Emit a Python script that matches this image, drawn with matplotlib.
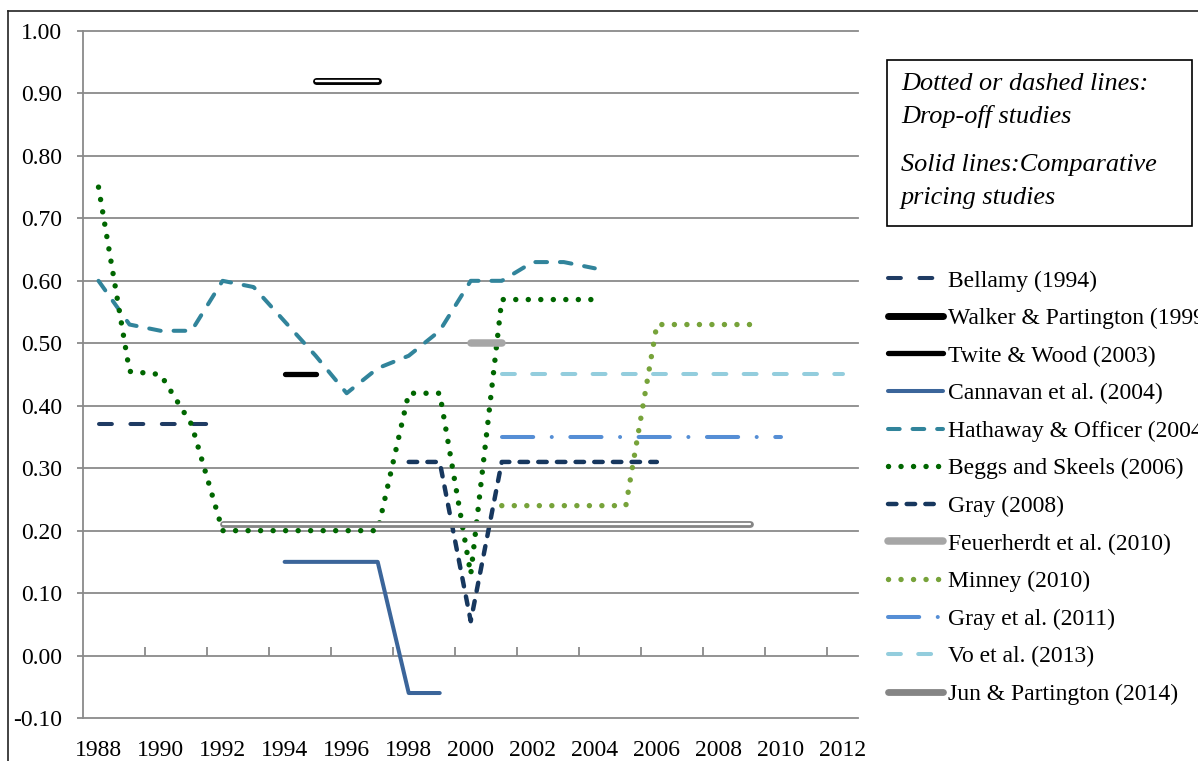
import numpy as np
import matplotlib
matplotlib.use("Agg")
import matplotlib.pyplot as plt
from matplotlib.patches import Rectangle
from matplotlib.lines import Line2D

plt.rcParams["font.family"] = ["Liberation Serif", "DejaVu Serif"]

# --- data ---
bellamy_years = [1988, 1989, 1990, 1991, 1992]
bellamy = [0.37, 0.37, 0.37, 0.37, 0.37]

walker_years = [1995, 1996, 1997]
walker = [0.92, 0.92, 0.92]

twite_years = [1994, 1995]
twite = [0.45, 0.45]

cannavan_years = [1994, 1995, 1996, 1997, 1998, 1999]
cannavan = [0.15, 0.15, 0.15, 0.15, -0.06, -0.06]

hathaway_years = list(range(1988, 2005))
hathaway = [0.60, 0.53, 0.52, 0.52, 0.60, 0.59, 0.535, 0.48, 0.42,
            0.46, 0.48, 0.52, 0.60, 0.60, 0.63, 0.63, 0.62]

beggs_years = list(range(1988, 2005))
beggs = [0.75, 0.455, 0.45, 0.37, 0.20, 0.20, 0.20, 0.20, 0.20,
         0.20, 0.42, 0.42, 0.13, 0.57, 0.57, 0.57, 0.57]

gray08_years = list(range(1998, 2007))
gray08 = [0.31, 0.31, 0.055, 0.31, 0.31, 0.31, 0.31, 0.31, 0.31]

feuerherdt_years = [2000, 2001]
feuerherdt = [0.50, 0.50]

minney_years = list(range(2001, 2010))
minney = [0.24, 0.24, 0.24, 0.24, 0.24, 0.53, 0.53, 0.53, 0.53]

gray11_years = list(range(2001, 2011))
gray11 = [0.35] * 10

vo_years = list(range(2001, 2013))
vo = [0.45] * 12

jun_years = list(range(1992, 2010))
jun = [0.21] * 18

y_ticks = [-0.1, 0.0, 0.1, 0.2, 0.3, 0.4, 0.5, 0.6, 0.7, 0.8, 0.9, 1.0]
x_ticks = list(range(1988, 2013, 2))

GRID = "#8A8A8A"

fig = plt.figure(figsize=(11.98, 7.61), dpi=100)
ax = fig.add_axes([83 / 1198, 43 / 761, (858.5 - 83) / 1198, 687 / 761])
ax.set_xlim(1987.5, 2012.5)
ax.set_ylim(-0.1, 1.0)

for y in y_ticks:
    ax.axhline(y, color=GRID, lw=1.3, zorder=0, clip_on=False)
ax.vlines(np.arange(1989.5, 2012, 2), 0, 0.013, color=GRID, lw=1.3, zorder=0)

# series, in legend order
ax.plot(bellamy_years, bellamy, color="#1F3B63", lw=2.9, ls=(0, (3.2, 4.6)),
        dash_capstyle="round", label="Bellamy (1994)")
ax.plot(walker_years, walker, color="black", lw=5.0, solid_capstyle="round",
        label="Walker & Partington (1999)")
ax.plot(walker_years, walker, color="white", lw=1.7, solid_capstyle="round")
ax.plot(twite_years, twite, color="black", lw=3.8, solid_capstyle="round",
        label="Twite & Wood (2003)")
ax.plot(cannavan_years, cannavan, color="#3B659A", lw=2.9,
        solid_capstyle="round", label="Cannavan et al. (2004)")
ax.plot(hathaway_years, hathaway, color="#31849B", lw=2.9, ls=(0, (2.9, 3.2)),
        dash_capstyle="round", label="Hathaway & Officer (2004)")
ax.plot(beggs_years, beggs, color="#006600", lw=3.9, ls=(0, (0.01, 2.3)),
        dash_capstyle="round", label="Beggs and Skeels (2006)")
ax.plot(gray08_years, gray08, color="#17375E", lw=3.2, ls=(0, (1.9, 2.3)),
        dash_capstyle="round", label="Gray (2008)")
ax.plot(feuerherdt_years, feuerherdt, color="#A6A6A6", lw=5.4,
        solid_capstyle="round", label="Feuerherdt et al. (2010)")
ax.plot(minney_years, minney, color="#77A33A", lw=3.9, ls=(0, (0.01, 2.3)),
        dash_capstyle="round", label="Minney (2010)")
ax.plot(gray11_years, gray11, color="#558ED5", lw=2.9,
        ls=(0, (7.75, 4.6, 0.01, 4.6)), dash_capstyle="round",
        label="Gray et al. (2011)")
ax.plot(vo_years, vo, color="#93CDDD", lw=2.9, ls=(0, (3.2, 4.3)),
        dash_capstyle="round", label="Vo et al. (2013)")
ax.plot(jun_years, jun, color="#858585", lw=4.9, solid_capstyle="round",
        label="Jun & Partington (2014)")
ax.plot(jun_years, jun, color="white", lw=1.6, solid_capstyle="round")

for s in ["top", "right", "bottom"]:
    ax.spines[s].set_visible(False)
ax.spines["left"].set_color(GRID)
ax.spines["left"].set_linewidth(1.3)

ax.set_yticks(y_ticks)
ax.set_yticklabels([f"{v:.2f}" for v in y_ticks])
ax.set_xticks(x_ticks)
ax.set_xticklabels([str(v) for v in x_ticks])
ax.tick_params(axis="y", length=4, color=GRID, width=1.3, pad=11, labelsize=17)
ax.tick_params(axis="x", length=0, pad=16, labelsize=17)

ax.legend(loc="upper left", bbox_to_anchor=(888 / 1198, 1 - 270 / 761),
          bbox_transform=fig.transFigure, frameon=False, fontsize=17,
          handlelength=2.35, handletextpad=0.2, labelspacing=0.68,
          borderpad=0, borderaxespad=0)

# note box
fig.add_artist(Rectangle((887 / 1198, 1 - 226 / 761), 305 / 1198, 166 / 761,
                         transform=fig.transFigure, fill=False,
                         edgecolor="black", lw=1.2))
note_lines = [("Dotted or dashed lines:", 84), ("Drop-off studies", 116),
              ("Solid lines:Comparative", 165), ("pricing studies", 198)]
for txt, ypx in note_lines:
    fig.text(901 / 1198, 1 - ypx / 761, txt, style="italic", fontsize=18.9,
             va="center", ha="left")

# outer frame, cut by the image edge
fig.add_artist(Line2D([7.5 / 1198, 7.5 / 1198], [0, 1 - 11 / 761],
                      transform=fig.transFigure, color="#222222", lw=1.2))
fig.add_artist(Line2D([7.5 / 1198, 1], [1 - 11 / 761, 1 - 11 / 761],
                      transform=fig.transFigure, color="#222222", lw=1.2))

fig.savefig("out.png", dpi=100)
